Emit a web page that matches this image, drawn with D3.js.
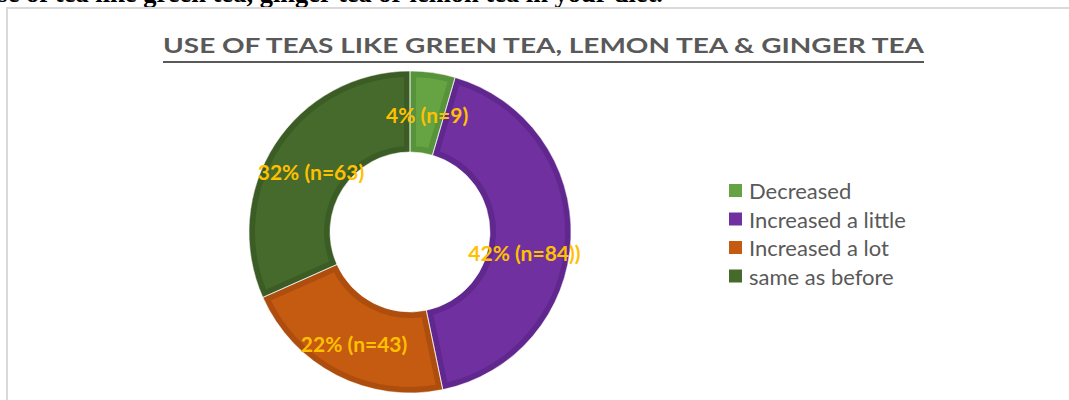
<!DOCTYPE html>
<html><head><meta charset="utf-8">
<script src="https://cdn.jsdelivr.net/npm/d3@7"></script>
<style>html,body{margin:0;padding:0;background:#fff;overflow:hidden}</style>
</head><body>
<svg id="c" width="1069" height="400"></svg>
<script>
const categories = ["Decreased", "Increased a little", "Increased a lot", "same as before"];
const counts = [9, 84, 43, 63];
const labels = ["4% (n=9)", "42% (n=84))", "22% (n=43)", "32% (n=63)"];
const fills = ["#66a443", "#7030a0", "#c55a11", "#456a2b"];
const edges = ["#57933a", "#60288e", "#ad4e0e", "#3b5c24"];
const titleText = "USE OF TEAS LIKE GREEN TEA, LEMON TEA & GINGER TEA";
const headingText = "Use of tea like green tea, ginger tea or lemon tea in your diet.";

const svg = d3.select("#c");
const font = "Lato, 'Open Sans', sans-serif";

// cropped heading from the document (cut off at the top, as in the original)
svg.append("text").attr("x", 663).attr("y", 2).attr("text-anchor", "end")
  .attr("font-family", "'Liberation Serif', 'Times New Roman', serif")
  .attr("font-weight", "bold").attr("font-size", 26.5).attr("fill", "#000")
  .text(headingText);

// chart frame
svg.append("rect").attr("x", 7).attr("y", 8).attr("width", 1100).attr("height", 420)
  .attr("fill", "none").attr("stroke", "#d9d9d9").attr("stroke-width", 2);

// title
svg.append("text").attr("x", 163).attr("y", 53)
  .attr("font-family", font).attr("font-size", 21).attr("font-weight", "bold")
  .attr("fill", "#595959").attr("textLength", 761).attr("lengthAdjust", "spacingAndGlyphs")
  .text(titleText);
svg.append("line").attr("x1", 163).attr("x2", 924).attr("y1", 62).attr("y2", 62)
  .attr("stroke", "#595959").attr("stroke-width", 2);

// donut
const cx = 410, cy = 232, rOuter = 161, rInner = 80;
const pie = d3.pie().sort(null).value(d => d)(counts);
const arc = d3.arc().innerRadius(rInner).outerRadius(rOuter);
const g = svg.append("g").attr("transform", `translate(${cx},${cy})`);
const defs = svg.append("defs");
pie.forEach((p, i) => {
  defs.append("clipPath").attr("id", "clip" + i).append("path").attr("d", arc(p));
});
g.selectAll("path.slice").data(pie).join("path")
  .attr("class", "slice")
  .attr("d", arc)
  .attr("fill", (d, i) => fills[i])
  .attr("stroke", (d, i) => edges[i])
  .attr("stroke-width", 12)
  .attr("clip-path", (d, i) => `url(#clip${i})`);
g.selectAll("path.sep").data(pie).join("path")
  .attr("class", "sep").attr("d", arc)
  .attr("fill", "none").attr("stroke", "#fff").attr("stroke-opacity", 0.6).attr("stroke-width", 1);

// labels at centroid, with small layout nudges like the original
const nudge = [[0, 2], [-6, 16], [-1, 4], [2, 5]];
g.selectAll("text.lbl").data(pie).join("text")
  .attr("class", "lbl")
  .attr("x", (d, i) => arc.centroid(d)[0] + nudge[i][0])
  .attr("y", (d, i) => arc.centroid(d)[1] + nudge[i][1])
  .attr("text-anchor", "middle").attr("dominant-baseline", "central")
  .attr("font-family", font).attr("font-weight", "bold").attr("font-size", 21)
  .attr("fill", "#ffc000")
  .text((d, i) => labels[i]);

// legend
const legend = svg.append("g").attr("transform", "translate(729,184)");
const rows = legend.selectAll("g").data(categories).join("g")
  .attr("transform", (d, i) => `translate(0,${i * 28.5})`);
rows.append("rect").attr("width", 13).attr("height", 13)
  .attr("fill", (d, i) => fills[i]);
rows.append("text").attr("x", 20).attr("y", 6.5).attr("dominant-baseline", "central")
  .attr("font-family", font).attr("font-size", 22).attr("fill", "#595959")
  .text(d => d);
</script>
</body></html>
